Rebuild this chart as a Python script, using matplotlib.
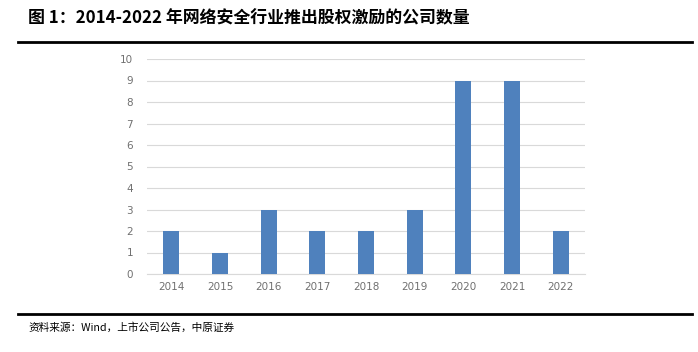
import matplotlib.pyplot as plt
from matplotlib.lines import Line2D

plt.rcParams['font.family'] = ['Noto Sans CJK SC', 'DejaVu Sans']

# Data
years = ['2014', '2015', '2016', '2017', '2018', '2019', '2020', '2021', '2022']
counts = [2, 1, 3, 2, 2, 3, 9, 9, 2]
y_ticks = list(range(0, 11))

title = '图 1：2014-2022 年网络安全行业推出股权激励的公司数量'
source = '资料来源：Wind，上市公司公告，中原证券'

W, H = 698, 352
fig = plt.figure(figsize=(W / 100, H / 100), dpi=100)

# Plot area (pixel positions converted to figure fractions)
left, right = 147 / W, 585 / W
bottom, top = 1 - 274 / H, 1 - 59 / H
ax = fig.add_axes([left, bottom, right - left, top - bottom])

x = range(len(years))
ax.bar(x, counts, width=0.33, color='#4F81BD', zorder=3)
ax.set_xlim(-0.5, len(years) - 0.5)
ax.set_ylim(0, 10)
ax.set_yticks(y_ticks)
ax.set_xticks(list(x))
ax.set_xticklabels(years)
ax.grid(axis='y', color='#D9D9D9', linewidth=0.8, zorder=0)
for s in ['top', 'right', 'left']:
    ax.spines[s].set_visible(False)
ax.spines['bottom'].set_color('#D9D9D9')
ax.spines['bottom'].set_linewidth(0.8)
ax.tick_params(axis='both', length=0, labelsize=7.5, labelcolor='#707070')
ax.tick_params(axis='y', pad=10)
ax.tick_params(axis='x', pad=6)
for lab in ax.get_xticklabels() + ax.get_yticklabels():
    lab.set_family('DejaVu Sans')

# Title, rules and source
fig.text(28 / W, 1 - 18 / H, title, fontsize=12.2, fontweight='heavy',
         va='center', ha='left', color='black')
fig.add_artist(Line2D([18 / W, 692 / W], [1 - 42 / H, 1 - 42 / H],
                      color='black', linewidth=2, transform=fig.transFigure))
fig.add_artist(Line2D([18 / W, 692 / W], [1 - 314 / H, 1 - 314 / H],
                      color='black', linewidth=2, transform=fig.transFigure))
fig.text(28 / W, 1 - 328 / H, source, fontsize=7.7, va='center', ha='left',
         color='black')

fig.savefig('out.png', dpi=100)
